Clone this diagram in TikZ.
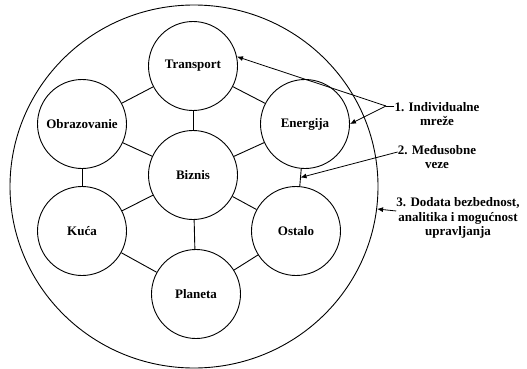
\documentclass[tikz,border=0pt]{standalone}
\usepackage{fontspec}
\setmainfont{Liberation Serif}
\usetikzlibrary{arrows.meta,positioning,shapes.geometric}
\tikzset{
  krug/.style  = {circle, draw, line width=0.9pt, minimum size=89pt, inner sep=0pt,
                  font=\fontsize{13}{15}\selectfont\bfseries},
  veza/.style  = {draw, line width=0.9pt},
  ar/.style    = {-{Latex[length=6pt,width=5pt]}, draw, line width=0.8pt},
  lbl/.style   = {align=center, inner sep=0pt,
                  font=\fontsize{13}{14.5}\selectfont\bfseries},
}
\begin{document}
\begin{tikzpicture}[x=1pt,y=-1pt]
  \useasboundingbox (0,0) rectangle (527,369);
  % outer ring
  \node[ellipse, draw, line width=0.9pt, minimum width=368pt, minimum height=363pt,
        inner sep=0pt] (okvir) at (194,186.5) {};
  % networks
  \node[krug] (tr)  at (193,66)  {Transport};
  \node[krug] (obr) at (82,124)  {Obrazovanie};
  \node[krug] (en)  at (305,124) {Energija};
  \node[krug] (biz) at (193,175) {Biznis};
  \node[krug] (kuc) at (82,231)  {Kuća};
  \node[krug] (ost) at (296,231) {Ostalo};
  \node[krug] (pla) at (196,294) {Planeta};
  \draw[veza] (tr) -- (obr);
  \draw[veza] (tr) -- (en);
  \draw[veza] (tr) -- (biz);
  \draw[veza] (obr) -- (biz);
  \draw[veza] (en) -- (biz);
  \draw[veza] (obr) -- (kuc);
  \draw[veza] (en) -- coordinate[midway] (ev) (ost);
  \draw[veza] (biz) -- (kuc);
  \draw[veza] (biz) -- (ost);
  \draw[veza] (biz) -- (pla);
  \draw[veza] (kuc) -- (pla);
  \draw[veza] (ost) -- (pla);
  % annotations
  \node[lbl] (n1) at (437,114) {1. Individualne\\mreže};
  \node[lbl] (n2) at (437,157) {2. Međusobne\\veze};
  \node[lbl] (n3) at (458,218) {3. Dodata bezbednost,\\analitika i mogućnost\\upravljanja};
  \coordinate (v1) at (386,106);
  \draw[veza] (n1.west |- v1) -- (v1);
  \draw[ar] (v1) -- (tr.12);
  \draw[ar] (v1) -- (en.east);
  \draw[ar] (n2.west |- 0,152) -- (ev);
  \draw[ar] (n3.west |- 0,211) -- (okvir.-7);
\end{tikzpicture}
\end{document}
